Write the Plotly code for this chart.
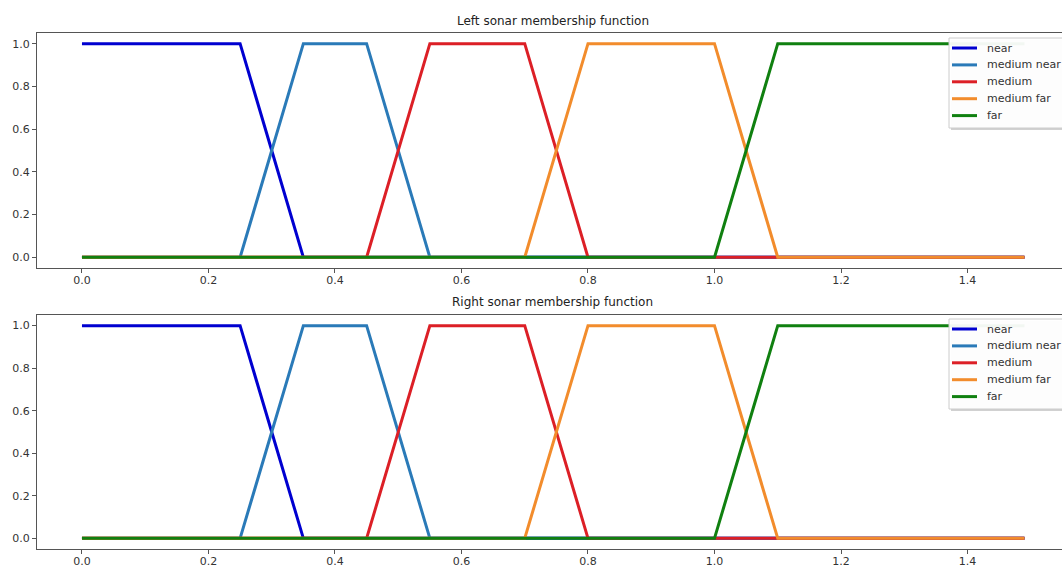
import plotly.graph_objects as go
from plotly.subplots import make_subplots

# ---- data (membership function breakpoints) ----
names = ["near", "medium near", "medium", "medium far", "far"]
near_x = [0.0, 0.25, 0.35, 1.49]
near_y = [1, 1, 0, 0]
mnear_x = [0.0, 0.25, 0.35, 0.45, 0.55, 1.49]
mnear_y = [0, 0, 1, 1, 0, 0]
medium_x = [0.0, 0.45, 0.55, 0.70, 0.80, 1.49]
medium_y = [0, 0, 1, 1, 0, 0]
mfar_x = [0.0, 0.70, 0.80, 1.00, 1.10, 1.49]
mfar_y = [0, 0, 1, 1, 0, 0]
far_x = [0.0, 1.00, 1.10, 1.49]
far_y = [0, 0, 1, 1]
titles = ["Left sonar membership function", "Right sonar membership function"]
x_ticks = [0.0, 0.2, 0.4, 0.6, 0.8, 1.0, 1.2, 1.4]
y_ticks = [0.0, 0.2, 0.4, 0.6, 0.8, 1.0]

colors = ["#0000d0", "#2a7ab8", "#dc1f26", "#f28c2c", "#108010"]
series = [(near_x, near_y), (mnear_x, mnear_y), (medium_x, medium_y),
          (mfar_x, mfar_y), (far_x, far_y)]

W, H = 1062, 565
ML, MT, MB = 37, 33, 16
PH = H - MT - MB
PW = W - ML


def py(p):
    return (H - MB - p) / PH


def px(p):
    return (p - ML) / PW


fig = make_subplots(rows=2, cols=1, vertical_spacing=0.0)

for row in (1, 2):
    for (xs, ys), nm, c in zip(series, names, colors):
        fig.add_trace(go.Scatter(x=xs, y=ys, mode="lines", name=nm,
                                 line=dict(color=c, width=3),
                                 showlegend=False),
                      row=row, col=1)

font = dict(family="DejaVu Sans", size=11, color="#333333")
axis_common = dict(showgrid=False, zeroline=False, showline=True,
                   linecolor="#555555", linewidth=1, ticks="outside",
                   ticklen=4, tickcolor="#555555", tickfont=font)

fig.update_xaxes(range=[-0.0711, 1.5494], tickvals=x_ticks, tickformat=".1f",
                 mirror=True, ticklabelstandoff=-2, **axis_common)
fig.update_yaxes(range=[-0.05, 1.05], tickvals=y_ticks, tickformat=".1f",
                 **axis_common)

fig.update_layout(
    yaxis=dict(domain=[py(268), 1.0]),
    yaxis2=dict(domain=[0, py(315)]),
)

annotations = []
shapes = []
for t, ypx in zip(titles, [21, 302]):
    annotations.append(dict(text=t, xref="paper", yref="paper", x=0.503, y=py(ypx),
                            xanchor="center", yanchor="middle", showarrow=False,
                            font=dict(family="DejaVu Sans", size=12, color="#222222")))

# legends (matplotlib-style, one per panel)
for top in (38, 319):
    bottom = top + 90
    # faint shadow
    shapes.append(dict(type="rect", xref="paper", yref="paper", layer="above",
                       x0=px(951), x1=px(1080), y0=py(top + 2), y1=py(bottom + 2),
                       fillcolor="rgba(0,0,0,0.18)", line=dict(width=0)))
    shapes.append(dict(type="rect", xref="paper", yref="paper", layer="above",
                       x0=px(949), x1=px(1078), y0=py(top), y1=py(bottom),
                       fillcolor="rgba(255,255,255,0.95)",
                       line=dict(color="#cccccc", width=1)))
    for i, (nm, c) in enumerate(zip(names, colors)):
        yy = top + 10 + 16.9 * i
        shapes.append(dict(type="line", xref="paper", yref="paper", layer="above",
                           x0=px(952), x1=px(977), y0=py(yy), y1=py(yy),
                           line=dict(color=c, width=3)))
        annotations.append(dict(text=nm, xref="paper", yref="paper",
                                x=px(985), y=py(yy), xanchor="left", yanchor="middle",
                                showarrow=False, font=font))

fig.update_layout(
    width=W, height=H,
    margin=dict(l=ML, r=0, t=MT, b=MB, autoexpand=False),
    paper_bgcolor="white", plot_bgcolor="white",
    annotations=annotations, shapes=shapes,
    showlegend=False,
)

fig.write_html("out.html")
